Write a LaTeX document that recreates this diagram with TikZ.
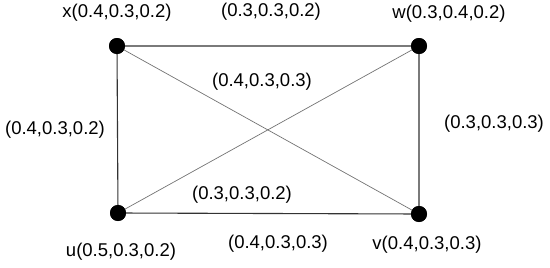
\documentclass[tikz,border=0pt]{standalone}
\usepackage{fontspec}
\setmainfont{Liberation Sans}
\begin{document}
\begin{tikzpicture}[x=1pt,y=-1pt,
  vert/.style={circle,fill=black,inner sep=0pt,minimum size=16pt},
  lab/.style={inner sep=0pt,font=\fontsize{18.5}{21}\selectfont},
  side/.style={draw=black!80,line width=1.1pt},
  diag/.style={draw=black!55,line width=0.7pt}]
\useasboundingbox (0,0) rectangle (550,268);
\node[vert] (x) at (117,46) {};
\node[vert] (w) at (419,46) {};
\node[vert] (u) at (118,213) {};
\node[vert] (v) at (419,214) {};
\draw[diag] (x.center) -- (v.center);
\draw[diag] (u.center) -- (w.center);
\draw[side] (x.center) -- (w.center) -- (v.center) -- (u.center) -- cycle;
\node[vert] at (x) {};
\node[vert] at (w) {};
\node[vert] at (u) {};
\node[vert] at (v) {};
\node[lab] (lx) at (117,13) {x(0.4,0.3,0.2)};
\node[lab] (lxw) at (271,12) {(0.3,0.3,0.2)};
\node[lab] (lw) at (449,14) {w(0.3,0.4,0.2)};
\node[lab] (lc1) at (262,82) {(0.4,0.3,0.3)};
\node[lab] (lxu) at (55,130) {(0.4,0.3,0.2)};
\node[lab] (lwv) at (494,124) {(0.3,0.3,0.3)};
\node[lab] (lc2) at (242,195) {(0.3,0.3,0.2)};
\node[lab] (luv) at (278,244) {(0.4,0.3,0.3)};
\node[lab] (lu) at (121,252) {u(0.5,0.3,0.2)};
\node[lab] (lv) at (427,245) {v(0.4,0.3,0.3)};
\end{tikzpicture}
\end{document}
